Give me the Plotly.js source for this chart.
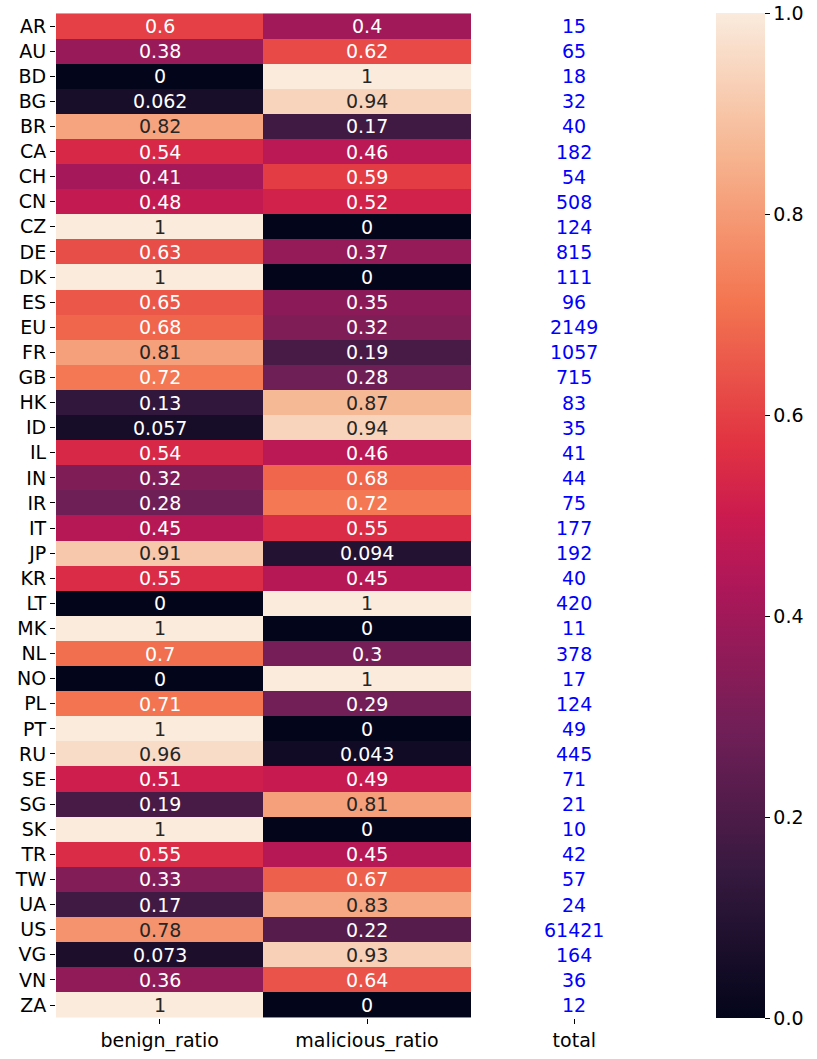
<!DOCTYPE html>
<html>
<head>
<meta charset="utf-8">
<script src="https://cdn.plot.ly/plotly-3.0.1.min.js"></script>
<style>
html,body{margin:0;padding:0;background:#fff;}
#chart{width:817px;height:1059px;}
</style>
</head>
<body>
<div id="chart"></div>
<script>
const countries = ["AR","AU","BD","BG","BR","CA","CH","CN","CZ","DE","DK","ES","EU","FR","GB","HK","ID","IL","IN","IR","IT","JP","KR","LT","MK","NL","NO","PL","PT","RU","SE","SG","SK","TR","TW","UA","US","VG","VN","ZA"];
const benignRatio = [0.6,0.38,0,0.062,0.82,0.54,0.41,0.48,1,0.63,1,0.65,0.68,0.81,0.72,0.13,0.057,0.54,0.32,0.28,0.45,0.91,0.55,0,1,0.7,0,0.71,1,0.96,0.51,0.19,1,0.55,0.33,0.17,0.78,0.073,0.36,1];
const maliciousRatio = [0.4,0.62,1,0.94,0.17,0.46,0.59,0.52,0,0.37,0,0.35,0.32,0.19,0.28,0.87,0.94,0.46,0.68,0.72,0.55,0.094,0.45,1,0,0.3,1,0.29,0,0.043,0.49,0.81,0,0.45,0.67,0.83,0.22,0.93,0.64,0];
const totals = [15,65,18,32,40,182,54,508,124,815,111,96,2149,1057,715,83,35,41,44,75,177,192,40,420,11,378,17,124,49,445,71,21,10,42,57,24,61421,164,36,12];
const columns = ["benign_ratio","malicious_ratio","total"];

const rocket = [
  [0.0,"#03051a"],[0.142857,"#35193e"],[0.285714,"#701f57"],[0.428571,"#ad1759"],
  [0.5,"#cb1b4f"],[0.571429,"#e13342"],[0.714286,"#f37651"],[0.857143,"#f6b48f"],[1.0,"#faebdd"]
];

const z = countries.map((c,i)=>[benignRatio[i], maliciousRatio[i], null]);

const annotations = [];
const FONT = "DejaVu Sans, Arial, sans-serif";
const FS = 19;
function txtColor(v){ return v >= 0.75 ? "#262626" : "#ffffff"; }
countries.forEach((c,i)=>{
  annotations.push({x:columns[0], y:c, text:String(benignRatio[i]), showarrow:false,
    font:{family:FONT,size:FS,color:txtColor(benignRatio[i])}});
  annotations.push({x:columns[1], y:c, text:String(maliciousRatio[i]), showarrow:false,
    font:{family:FONT,size:FS,color:txtColor(maliciousRatio[i])}});
  annotations.push({x:columns[2], y:c, text:String(totals[i]), showarrow:false,
    font:{family:FONT,size:FS,color:"#0000ff"}});
});

const trace = {
  type:"heatmap",
  x:columns, y:countries, z:z,
  colorscale:rocket, zmin:0, zmax:1,
  hoverongaps:false,
  xgap:0, ygap:0,
  colorbar:{
    x:1.0611, xanchor:"left", xref:"paper",
    y:0.5, yanchor:"middle",
    len:1, lenmode:"fraction",
    thickness:49, thicknessmode:"pixels",
    xpad:0, ypad:0, outlinewidth:0,
    tickvals:[0,0.2,0.4,0.6,0.8,1.0], ticktext:["0.0","0.2","0.4","0.6","0.8","1.0"],
    ticks:"outside", ticklen:5, tickwidth:1, tickcolor:"#000",
    tickfont:{family:FONT,size:FS,color:"#000"}
  }
};

const layout = {
  width:817, height:1059,
  margin:{l:56, r:139, t:13, b:41},
  paper_bgcolor:"#ffffff", plot_bgcolor:"#ffffff",
  xaxis:{type:"category", range:[-0.5,2.5], showgrid:false, zeroline:false, showline:false,
    ticks:"outside", ticklen:5, tickwidth:1, tickcolor:"#000",
    tickfont:{family:FONT,size:FS,color:"#000"}, fixedrange:true},
  yaxis:{type:"category", autorange:"reversed", showgrid:false, zeroline:false, showline:false,
    ticks:"outside", ticklen:5, tickwidth:1, tickcolor:"#000",
    tickfont:{family:FONT,size:FS,color:"#000"}, fixedrange:true},
  annotations:annotations,
  showlegend:false
};

Plotly.newPlot("chart",[trace],layout,{displayModeBar:false,staticPlot:true});
</script>
</body>
</html>
